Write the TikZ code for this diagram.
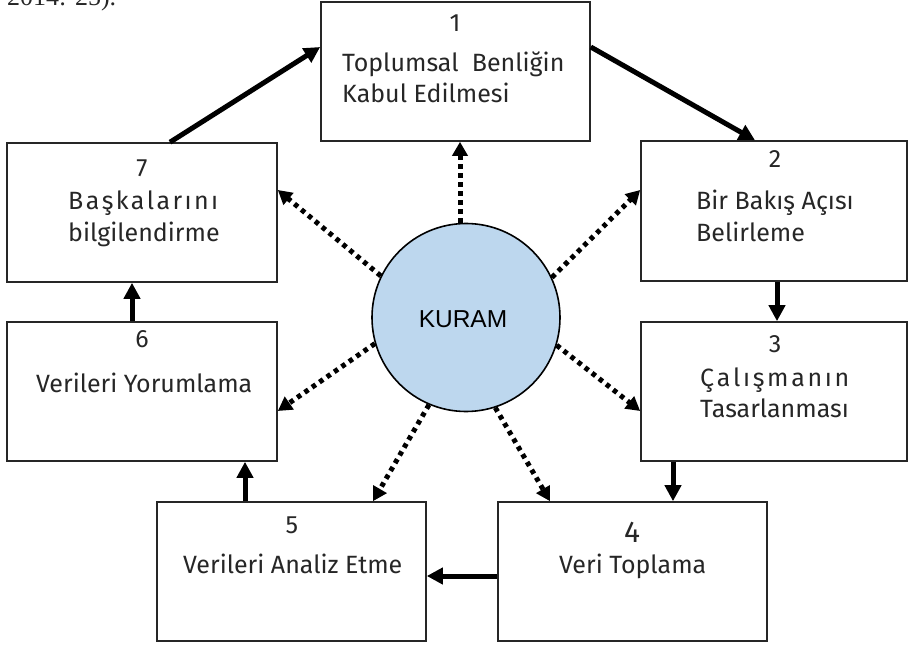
\documentclass[tikz,border=0pt]{standalone}
\usepackage{fontspec}
\setmainfont{Fira Sans}
\newfontfamily\kuramfont{Liberation Sans}
\newfontfamily\bodyserif{Liberation Serif}
\usetikzlibrary{arrows.meta}
\tikzset{
  box/.style={draw=black!85, line width=1.6pt, rectangle, inner sep=0pt},
  txt/.style={inner sep=0pt, anchor=base west, font=\fontsize{25}{30}\selectfont, text=black!85},
  num/.style={inner sep=0pt, anchor=base, font=\fontsize{25}{30}\selectfont, text=black!85},
  flow/.style={line width=5pt, -{Triangle[length=16pt,width=16pt]}},
  theory/.style={line width=5pt, dash pattern=on 4.5pt off 4.5pt, -{Triangle[length=14pt,width=15pt]}},
}
\begin{document}
\begin{tikzpicture}[x=1pt,y=-1pt]
\useasboundingbox (0,0) rectangle (908,647);
% cropped caption fragment
\node[inner sep=0pt, anchor=base west, font=\bodyserif\fontsize{26}{30}\selectfont, text=black!85] (cap) at (7,6) {2014: 25).};
% boxes
\node[box, minimum width=269pt, minimum height=139pt] (b1) at (455.5,71.5) {};
\node[box, minimum width=270pt, minimum height=139pt] (b7) at (142,212.5) {};
\node[box, minimum width=266pt, minimum height=140pt] (b2) at (774,211) {};
\node[box, minimum width=270pt, minimum height=139pt] (b6) at (142,391.5) {};
\node[box, minimum width=266pt, minimum height=139pt] (b3) at (774,391.5) {};
\node[box, minimum width=269pt, minimum height=139pt] (b5) at (291.5,571.5) {};
\node[box, minimum width=269pt, minimum height=139pt] (b4) at (632.5,571.5) {};
% circle
\node[circle, draw=black, line width=1.6pt, fill={rgb,255:red,189;green,215;blue,238}, minimum size=188pt, inner sep=0pt] (k) at (466,317.5) {};
\node[inner sep=0pt, anchor=base, font=\kuramfont\fontsize{24.5}{28}\selectfont] (kt) at (463,327) {KURAM};
% texts
\node[num] (n1) at (455,32) {1};
\node[txt] (t1a) at (342,72) {Toplumsal\ \ Benliğin};
\node[txt] (t1b) at (342,103) {Kabul Edilmesi};
\node[num] (n7) at (142,177) {7};
\node[txt] (t7a) at (68,210) {\makebox[150pt][s]{B\hfill a\hfill ş\hfill k\hfill a\hfill l\hfill a\hfill r\hfill ı\hfill n\hfill ı}};
\node[txt] (t7b) at (68,242) {bilgilendirme};
\node[num] (n2) at (775,168) {2};
\node[txt] (t2a) at (696,210) {Bir Bakış Açısı};
\node[txt] (t2b) at (696,242) {Belirleme};
\node[num] (n6) at (142,347) {6};
\node[txt] (t6) at (36,392) {Verileri Yorumlama};
\node[num] (n3) at (775,352) {3};
\node[txt] (t3a) at (700,386) {\makebox[149pt][s]{Ç\hfill a\hfill l\hfill ı\hfill ş\hfill m\hfill a\hfill n\hfill ı\hfill n}};
\node[txt] (t3b) at (700,417) {Tasarlanması};
\node[num] (n5) at (292,533) {5};
\node[txt] (t5) at (183,573) {Verileri Analiz Etme};
\node[num, font=\fontsize{30}{34}\selectfont] (n4) at (632,542) {4};
\node[txt] (t4) at (559,573) {Veri Toplama};
% process arrows
\draw[flow] ([xshift=28pt]b7.north) -- ([yshift=24.5pt]b1.west);
\draw[flow] ([yshift=24.5pt]b1.east) -- ([xshift=-19pt]b2.north);
\draw[flow] ([xshift=3pt]b2.south) -- ([xshift=3pt]b3.north);
\draw[flow] ([xshift=-101pt]b3.south) -- ([xshift=40.5pt]b4.north);
\draw[flow] ([yshift=-4.5pt]b4.west) -- ([yshift=-4.5pt]b5.east);
\draw[flow] ([xshift=-46.5pt]b5.north) -- ([xshift=103pt]b6.south);
\draw[flow] ([xshift=-10pt]b6.north) -- ([xshift=-10pt]b7.south);
% theory arrows
\draw[theory] ([xshift=-6pt]k.north) -- ([xshift=4.5pt]b1.south);
\draw[theory] (k.154.8) -- ([yshift=22.5pt]b7.east);
\draw[theory] (k.25.2) -- ([yshift=21pt]b2.west);
\draw[theory] (k.196.5) -- ([yshift=-19.5pt]b6.east);
\draw[theory] (k.343.7) -- ([yshift=-19.5pt]b3.west);
\draw[theory] (k.247) -- ([xshift=81.5pt]b5.north);
\draw[theory] (k.288) -- ([xshift=-82.5pt]b4.north);
\end{tikzpicture}
\end{document}
